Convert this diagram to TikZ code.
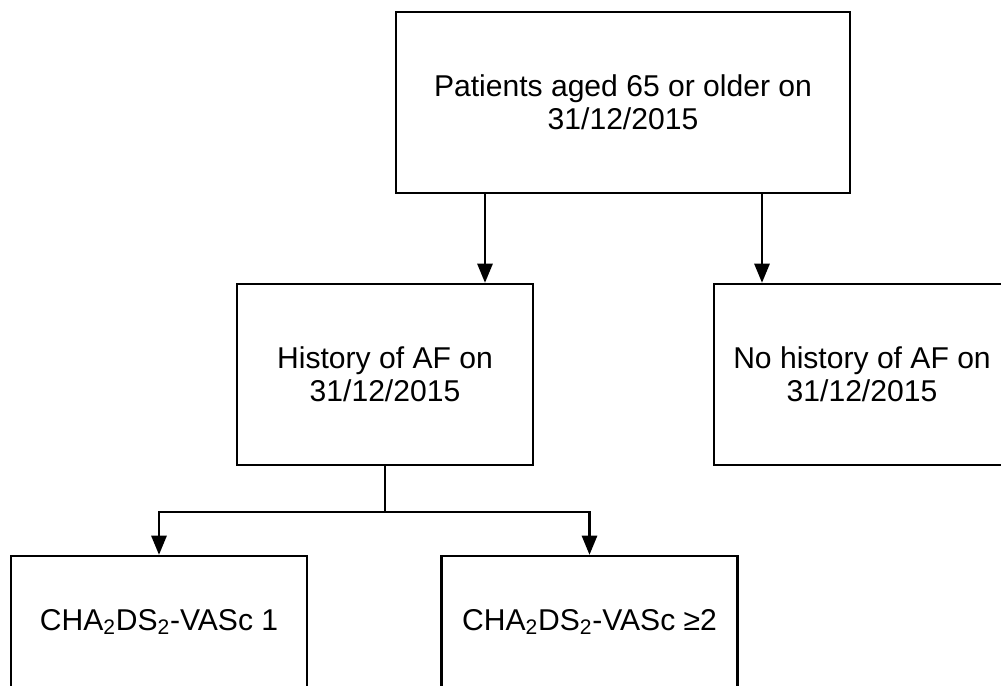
\documentclass[tikz,border=0pt]{standalone}
\usepackage{fontspec}
\setmainfont{Liberation Sans}
\usetikzlibrary{arrows.meta}

\begin{document}
\begin{tikzpicture}[line width=1.7pt, >={Triangle[length=0.48cm,width=0.38cm]},
    box/.style={draw, fill=white, align=center, minimum width=7.4cm,
        minimum height=4.525cm, font=\fontsize{21.4pt}{23.5pt}\selectfont}]
            \useasboundingbox (0,0) rectangle (25.025,-17.15);
            \clip (0,0) rectangle (25.025,-17.15);
            \node[box, minimum width=11.35cm] (top) at (15.575,-2.5625)
            {Patients aged 65 or older on\\31/12/2015};
            \node[box, below of=top, node distance=6.8cm, xshift=-5.95cm] (hist)
            {History of AF on\\31/12/2015};
            \node[box, below of=top, node distance=6.8cm, xshift=5.975cm] (nohist)
            {No history of AF on\\31/12/2015};
            \node[box, below of=hist, node distance=6.8cm, xshift=-5.65cm,
                text height=0.5cm, text depth=1.32cm] (chaone)
            {CHA\textsubscript{2}DS\textsubscript{2}-VASc 1};
            \node[box, below of=hist, node distance=6.8cm, xshift=5.1125cm,
                text height=0.5cm, text depth=1.32cm] (chatwo)
            {CHA\textsubscript{2}DS\textsubscript{2}-VASc ≥2};
            \coordinate[xshift=-3.45cm] (t1) at (top.south);
            \coordinate[xshift=3.475cm] (t2) at (top.south);
            \coordinate (split) at ([yshift=-1.15cm]hist.south);
            \draw[->] (t1) -- (t1 |- hist.north);
            \draw[->] (t2) -- (t2 |- nohist.north);
            \draw (hist.south) -- (split);
            \draw[->] (split) -| (chaone.north);
            \draw[->] (split) -| (chatwo.north);
        \end{tikzpicture}
\end{document}
